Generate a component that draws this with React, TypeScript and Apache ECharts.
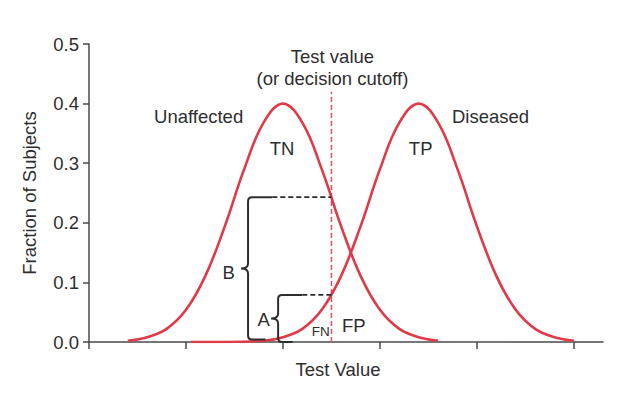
import React, { useEffect, useRef } from "react";
import * as echarts from "echarts";

// Curve readings (x in axis units: ticks 0..5, y = fraction of subjects)
const unaffectedX = [0.4, 0.6, 0.8, 1.0, 1.2, 1.4, 1.6, 1.8, 2.0, 2.2, 2.4, 2.6, 2.8, 3.0, 3.2, 3.4, 3.6];
const unaffectedY = [0.002, 0.008, 0.022, 0.054, 0.111, 0.194, 0.29, 0.368, 0.4, 0.368, 0.29, 0.194, 0.111, 0.054, 0.022, 0.008, 0.002];
const diseasedX = [1.05, 1.4, 1.8, 2.0, 2.2, 2.4, 2.6, 2.8, 3.0, 3.2, 3.4, 3.6, 3.8, 4.0, 4.2, 4.4, 4.6, 4.8, 5.0];
const diseasedY = [0, 0.0001, 0.002, 0.008, 0.022, 0.054, 0.111, 0.194, 0.29, 0.368, 0.4, 0.368, 0.29, 0.194, 0.111, 0.054, 0.022, 0.008, 0.002];

const cutoffValue = 2.5;
const cutoffTop = 0.42;

const xTickValues = [0, 1, 2, 3, 4, 5];
const yTickValues = [0, 0.1, 0.2, 0.3, 0.4, 0.5];

const annotationTexts = ["Test value\n(or decision cutoff)", "Unaffected", "Diseased", "TN", "TP", "B", "A", "FN", "FP"];
const annotationX = [2.51, 1.13, 4.14, 1.99, 3.42, 1.44, 1.8, 2.39, 2.73];
const annotationY = [0.46, 0.378, 0.378, 0.325, 0.325, 0.117, 0.037, 0.017, 0.027];
const annotationSizes = [18.5, 18.5, 18.5, 18.5, 18.5, 18.5, 18.5, 13.5, 18.5];

const bracketNames = ["B", "A"];
const bracketX = [1.64, 1.95];
const bracketTop = [0.243, 0.079];
const bracketBottom = [0.004, 0.0];
const bracketSolidEnd = [1.89, 2.2];
const bracketFootEnd = [1.82, 2.1];

const RED = "#e03a48";
const INK = "#2e2e2e";
const AXIS = "#4a4a4a";
const FONT = "'Liberation Sans', Arial, Helvetica, sans-serif";

export default function App() {
  const ref = useRef<HTMLDivElement>(null);

  useEffect(() => {
    if (!ref.current) return;
    const chart = echarts.init(ref.current, null, { renderer: "svg" });

    const option: any = {
      animation: false,
      backgroundColor: "#ffffff",
      textStyle: { fontFamily: FONT },
      grid: { left: 89, right: 19, top: 44, bottom: 55, outerBoundsMode: "none" },
      xAxis: {
        type: "value",
        min: 0,
        max: 5.3,
        interval: 1,
        name: "Test Value",
        nameLocation: "middle",
        nameGap: 18,
        nameTextStyle: { fontSize: 18.5, color: INK, fontFamily: FONT, padding: [0, 16, 0, 0] },
        axisLine: { show: true, lineStyle: { color: AXIS, width: 1.5 } },
        axisTick: { show: true, customValues: xTickValues, length: 7, lineStyle: { color: AXIS, width: 1.5 } },
        axisLabel: { show: false },
        splitLine: { show: false },
      },
      yAxis: {
        type: "value",
        min: 0,
        max: 0.5,
        interval: 0.1,
        name: "Fraction of Subjects",
        nameLocation: "middle",
        nameGap: 50,
        nameTextStyle: { fontSize: 18.5, color: INK, fontFamily: FONT },
        axisLine: { show: true, lineStyle: { color: AXIS, width: 1.5 } },
        axisTick: { show: true, length: 6, lineStyle: { color: AXIS, width: 1.5 } },
        axisLabel: {
          show: true,
          margin: 10,
          fontSize: 18.5,
          color: INK,
          fontFamily: FONT,
          customValues: yTickValues,
          formatter: (v: number) => v.toFixed(1),
        },
        splitLine: { show: false },
      },
      series: [
        {
          type: "line",
          name: "Unaffected",
          data: unaffectedX.map((x, i) => [x, unaffectedY[i]]),
          smooth: 0.4,
          symbol: "none",
          lineStyle: { color: RED, width: 2.6 },
          z: 3,
          silent: true,
        },
        {
          type: "line",
          name: "Diseased",
          data: diseasedX.map((x, i) => [x, diseasedY[i]]),
          smooth: 0.4,
          symbol: "none",
          lineStyle: { color: RED, width: 2.6 },
          z: 3,
          silent: true,
        },
        {
          type: "line",
          name: "Cutoff",
          data: [
            [cutoffValue, 0],
            [cutoffValue, cutoffTop],
          ],
          symbol: "none",
          lineStyle: { color: "#e0505e", width: 1.5, type: [5, 3] },
          z: 2,
          silent: true,
        },
        {
          type: "custom",
          name: "Brackets",
          clip: false,
          silent: true,
          z: 4,
          encode: { x: 0, y: 1 },
          data: bracketNames.map((_, i) => [
            bracketX[i],
            bracketTop[i],
            bracketBottom[i],
            bracketSolidEnd[i],
            bracketFootEnd[i],
            cutoffValue,
          ]),
          renderItem: (params: any, api: any) => {
            const x = api.value(0);
            const top = api.value(1);
            const bottom = api.value(2);
            const solidEnd = api.value(3);
            const footEnd = api.value(4);
            const cut = api.value(5);
            const [X, Yt] = api.coord([x, top]);
            const Yb = api.coord([x, bottom])[1];
            const Xs = api.coord([solidEnd, top])[0];
            const Xf = api.coord([footEnd, bottom])[0];
            const Xc = api.coord([cut, top])[0];
            const r = 4;
            const d = 7;
            const Ym = (Yt + Yb) / 2;
            const p =
              `M${Xs} ${Yt} L${X + r} ${Yt} Q${X} ${Yt} ${X} ${Yt + r} ` +
              `L${X} ${Ym - r - 1} Q${X} ${Ym} ${X - d} ${Ym} Q${X} ${Ym} ${X} ${Ym + r + 1} ` +
              `L${X} ${Yb - r} Q${X} ${Yb} ${X + r} ${Yb} L${Xf} ${Yb}`;
            return {
              type: "group",
              children: [
                {
                  type: "path",
                  shape: { pathData: p },
                  style: { stroke: "#2e2e2e", fill: "none", lineWidth: 2 },
                },
                {
                  type: "line",
                  shape: { x1: Xs, y1: Yt, x2: Xc, y2: Yt },
                  style: { stroke: "#2e2e2e", lineWidth: 1.8, lineDash: [5, 3] },
                },
              ],
            };
          },
        },
        {
          type: "scatter",
          name: "Annotations",
          symbolSize: 0,
          silent: true,
          z: 5,
          itemStyle: { color: INK, opacity: 1 },
          data: annotationTexts.map((t, i) => ({
            value: [annotationX[i], annotationY[i]],
            name: t,
            label: {
              show: true,
              position: "inside",
              formatter: "{b}",
              fontSize: annotationSizes[i],
              lineHeight: 22,
              color: INK,
              textBorderWidth: 0,
              fontFamily: FONT,
              align: "center",
            },
          })),
          label: {
            show: true,
            position: "inside",
            formatter: "{b}",
            fontSize: 18.5,
            lineHeight: 22,
            color: INK,
            textBorderWidth: 0,
            fontFamily: FONT,
            align: "center",
          },
        },
      ],
    };

    chart.setOption(option);
    return () => chart.dispose();
  }, []);

  return (
    <div
      ref={ref}
      style={{ position: "fixed", left: 0, top: 0, width: 622, height: 397, background: "#fff" }}
    />
  );
}
